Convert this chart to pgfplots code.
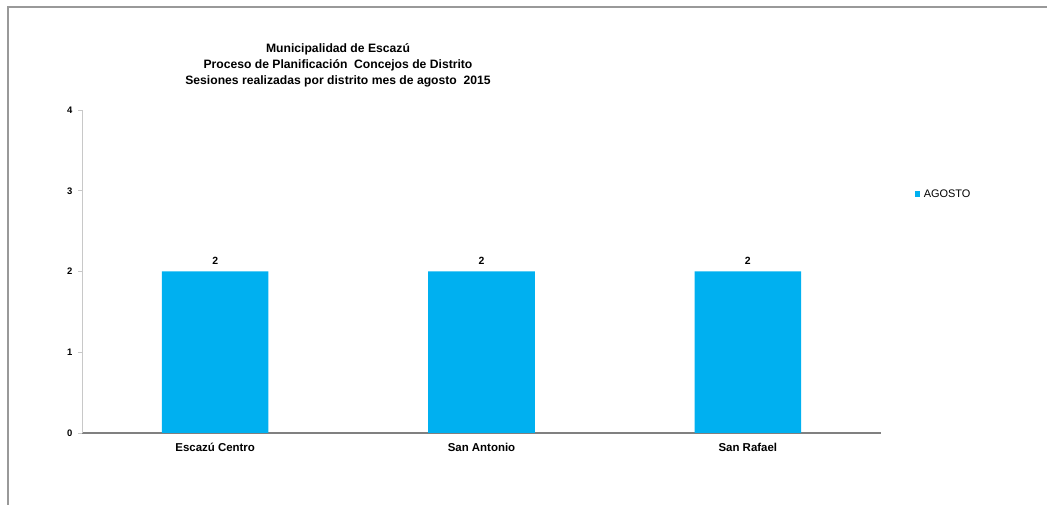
\documentclass[border=0pt]{standalone}
\usepackage{pgfplots}
\pgfplotsset{compat=1.18}
\usepackage{fontspec}
\setmainfont{Liberation Sans}
\definecolor{barblue}{HTML}{00B0F0}
\definecolor{axgray}{HTML}{808080}
\definecolor{ylgray}{HTML}{C8C8C8}
\begin{document}
\begin{tikzpicture}
\path[use as bounding box] (0,0) rectangle (1047bp,505bp);
% outer frame (top and left only, as in the reference)
\draw[gray!80, line width=1.5bp] (8bp,0) -- (8bp,498bp) -- (1047bp,498bp);
% title
\node[align=center, font=\fontsize{12.2}{16.2}\selectfont\bfseries] at (338bp,440bp)
  {Municipalidad de Escazú\\
   Proceso de Planificación \ Concejos de Distrito\\
   Sesiones realizadas por distrito mes de agosto \ 2015};
\begin{axis}[
    at={(82bp,72bp)}, anchor=south west,
    scale only axis,
    width=799bp, height=323bp,
    ybar, bar width=0.4,
    xmin=-0.5, xmax=2.5,
    ymin=0, ymax=4,
    ytick={0,1,2,3,4},
    xtick={0,1,2},
    xticklabels={Escazú Centro, San Antonio, San Rafael},
    minor xtick={-0.5,0.5,1.5,2.5},
    axis x line=bottom, axis y line=left,
    x axis line style={-, axgray, line width=1.2bp},
    y axis line style={-, ylgray, line width=1bp},
    xtick style={draw=none},
    minor tick length=4bp,
    every minor tick/.style={axgray, line width=0.8bp},
    tick align=outside,
    major tick length=4bp,
    ytick style={ylgray, line width=0.8bp},
    every x tick label/.style={font=\fontsize{11.5}{13}\selectfont\bfseries, yshift=-3bp},
    every y tick label/.style={font=\fontsize{9.5}{11}\selectfont\bfseries, xshift=-2bp},
    /pgf/number format/assume math mode=true,
    nodes near coords,
    every node near coord/.style={font=\fontsize{10.5}{12}\selectfont\bfseries, yshift=3bp},
    legend style={at={(1.042,0.74)}, anchor=west, draw=none, fill=none,
      font=\fontsize{11}{12}\selectfont, inner sep=0pt},
    legend image code/.code={\fill[barblue] (0bp,-2.8bp) rectangle (5.5bp,2.7bp);},
    legend cell align=left,
    legend style={/tikz/every even column/.append style={column sep=0pt}},
]
\addplot[fill=barblue, draw=none] coordinates {(0,2) (1,2) (2,2)};
\addlegendentry{\hspace{1.5bp}AGOSTO}
\end{axis}
\end{tikzpicture}
\end{document}
